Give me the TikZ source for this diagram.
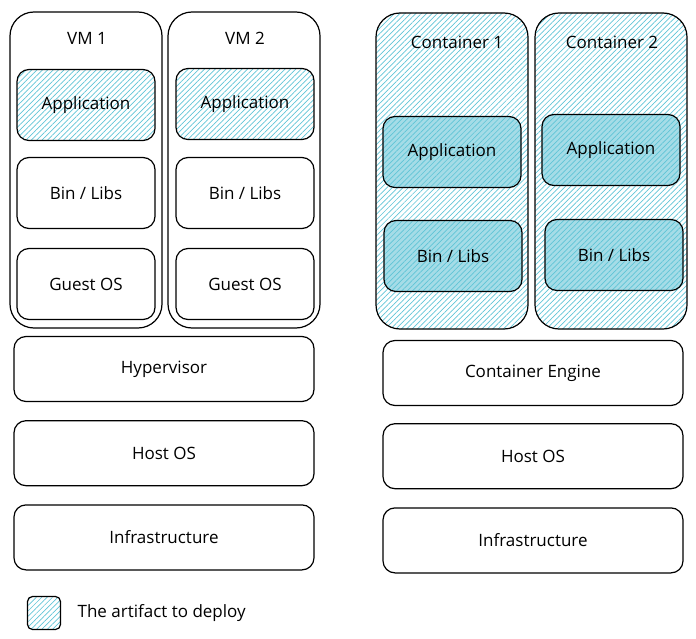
\documentclass[tikz,border=0pt]{standalone}
\usepackage{fontspec}
\setmainfont{Open Sans}
\usetikzlibrary{positioning,patterns.meta}
\definecolor{hatchcyan}{RGB}{95,196,214}
\definecolor{deepcyan}{RGB}{165,220,231}

\begin{document}
\begin{tikzpicture}[x=1pt, y=-1pt,
    font=\fontsize{17}{20}\selectfont,
    box/.style={draw, line width=1.2pt, rounded corners=12pt, minimum width=300pt, minimum height=65pt},
    layer/.style={draw, line width=1.2pt, rounded corners=12pt, minimum width=138pt, minimum height=71pt},
    shell/.style={draw, line width=1.2pt, rounded corners=24pt, minimum width=152pt, minimum height=316pt},
    artifact/.style={pattern={Lines[angle=45, distance=3.8pt, line width=0.7pt]}, pattern color=hatchcyan},
    deep/.style={preaction={fill=deepcyan}, artifact}]
    \useasboundingbox (0,0) rectangle (696,639);

    % virtual machines
    \node[shell] (vmone) at (86,170) {};
    \node (vmonetitle) at (87,38) {VM 1};
    \node[layer, artifact] (appvmone) at (86,105) {Application};
    \node[layer] (binvmone) at (86,193) {Bin / Libs};
    \node[layer] (guestone) at (86,284) {Guest OS};

    \node[shell] (vmtwo) at (244,170) {};
    \node (vmtwotitle) at (245,38) {VM 2};
    \node[layer, artifact] (appvmtwo) at (245,104) {Application};
    \node[layer] (binvmtwo) at (245,193) {Bin / Libs};
    \node[layer] (guesttwo) at (245,284) {Guest OS};

    \node[box] (hypervisor) at (164,369) {Hypervisor};
    \node[box, below=18pt of hypervisor] (hostvm) {Host OS};
    \node[box, below=18pt of hostvm] (infravm) {Infrastructure};

    % containers
    \node[shell, artifact] (ctone) at (452,171) {};
    \node (ctonetitle) at (457,42) {Container 1};
    \node[layer, deep] (appctone) at (452,152) {Application};
    \node[layer, deep] (binctone) at (453,256) {Bin / Libs};

    \node[shell, artifact] (cttwo) at (611,171) {};
    \node (cttwotitle) at (612,42) {Container 2};
    \node[layer, deep] (appcttwo) at (611,150) {Application};
    \node[layer, deep] (bincttwo) at (614,255) {Bin / Libs};

    \node[box] (engine) at (533,373) {Container Engine};
    \node[box, below=17pt of engine] (hostct) {Host OS};
    \node[box, below=18pt of hostct] (infract) {Infrastructure};

    % legend
    \node[draw, line width=1.2pt, rounded corners=5pt, minimum size=33pt, artifact] (key) at (44,613) {};
    \node[right=13pt of key] (keytext) {The artifact to deploy};
\end{tikzpicture}
\end{document}
